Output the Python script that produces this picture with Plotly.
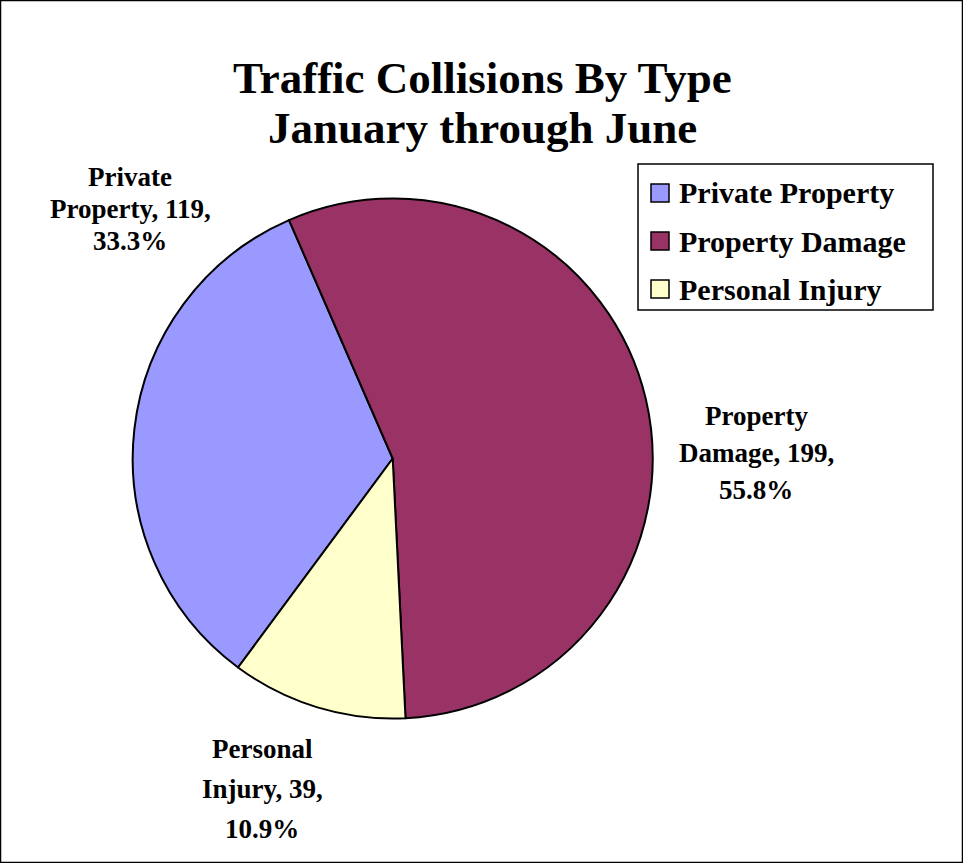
import plotly.graph_objects as go

W, H = 963, 863

categories = ["Private Property", "Property Damage", "Personal Injury"]
values = [119, 199, 39]
percents = ["33.3%", "55.8%", "10.9%"]
colors = ["#9999FF", "#993366", "#FFFFCC"]
title_lines = ["Traffic Collisions By Type", "January through June"]
label_lines = [
    ["Private", "Property, " + str(values[0]) + ",", percents[0]],
    ["Property", "Damage, " + str(values[1]) + ",", percents[1]],
    ["Personal", "Injury, " + str(values[2]) + ",", percents[2]],
]

FONT = "Liberation Serif"

def px(x):
    return x / W

def py(y):
    return 1 - y / H

fig = go.Figure()
fig.add_trace(go.Pie(
    labels=categories,
    values=values,
    sort=False,
    direction="clockwise",
    rotation=216.5,
    marker=dict(colors=colors, line=dict(color="black", width=2)),
    textinfo="none",
    hoverinfo="label+value+percent",
    showlegend=False,
    domain=dict(x=[px(132.7), px(652.7)], y=[py(718.5), py(198.5)]),
))

annotations = []
# title lines
for t, ty in zip(title_lines, [78, 128]):
    annotations.append(dict(
        x=px(483), y=py(ty), xref="paper", yref="paper",
        text="<b>" + t + "</b>", showarrow=False, xanchor="center", yanchor="middle",
        font=dict(family=FONT, size=45, color="black"),
    ))

# slice labels
label_pos = [(130, 209, 32), (756, 453, 37), (262, 789, 40)]
for lines, (lx, ly, gap) in zip(label_lines, label_pos):
    for i, ln in enumerate(lines):
        annotations.append(dict(
            x=px(lx), y=py(ly + (i - 1) * gap), xref="paper", yref="paper",
            text="<b>" + ln + "</b>",
            showarrow=False, xanchor="center", yanchor="middle", align="center",
            font=dict(family=FONT, size=27, color="black"),
        ))

shapes = [
    dict(type="rect", xref="paper", yref="paper", x0=px(0.5), x1=px(962.5), y0=py(862.5), y1=py(0.5),
         line=dict(color="black", width=1.5), fillcolor="rgba(0,0,0,0)", layer="above"),
    dict(type="rect", xref="paper", yref="paper", x0=px(638), x1=px(933), y0=py(310), y1=py(164),
         line=dict(color="black", width=1.5), fillcolor="white", layer="below"),
]

row_y = [193, 241, 289]
for cat, col, ry in zip(categories, colors, row_y):
    shapes.append(dict(type="rect", xref="paper", yref="paper",
                       x0=px(651), x1=px(669), y0=py(ry + 9), y1=py(ry - 9),
                       line=dict(color="black", width=1.5), fillcolor=col, layer="above"))
    annotations.append(dict(
        x=px(677), y=py(ry), xref="paper", yref="paper",
        text="<b>" + cat + "</b>", showarrow=False, xanchor="left", yanchor="middle",
        font=dict(family=FONT, size=30, color="black"),
    ))

fig.update_layout(
    width=W, height=H,
    margin=dict(l=0, r=0, t=0, b=0),
    paper_bgcolor="white",
    plot_bgcolor="white",
    annotations=annotations,
    shapes=shapes,
)

fig.write_html("out.html", config={"displayModeBar": False},
               post_script="document.body.style.margin='0';document.body.style.overflow='hidden';")
